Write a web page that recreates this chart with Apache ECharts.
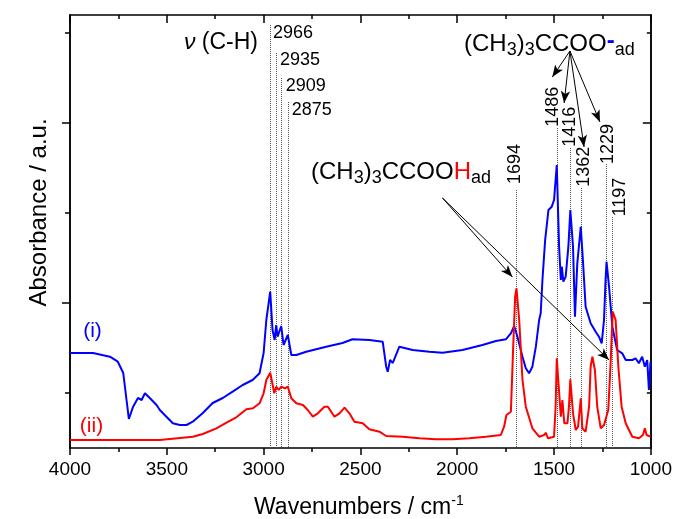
<!DOCTYPE html>
<html>
<head>
<meta charset="utf-8">
<script src="https://cdn.jsdelivr.net/npm/echarts@6/dist/echarts.min.js"></script>
<style>
  html, body { margin: 0; padding: 0; background: #fff; }
  #chart { width: 675px; height: 519px; }
</style>
</head>
<body>
<div id="chart"></div>
<script>
// spectrum (i), blue: [wavenumber, absorbance a.u.]
const spectrumI = [
  [4000,0.98],[3881,0.98],[3794,0.943],[3753,0.893],[3725,0.78],[3708,0.51],[3696,0.32],
  [3674,0.443],[3649,0.53],[3630,0.51],[3613,0.577],[3588,0.53],[3553,0.46],[3536,0.41],
  [3502,0.343],[3469,0.277],[3433,0.26],[3398,0.26],[3366,0.293],[3314,0.38],[3263,0.48],
  [3211,0.53],[3160,0.593],[3108,0.66],[3057,0.71],[3021,0.777],[3000,0.98],[2986,1.31],
  [2966,1.593],[2954,1.21],[2943,1.11],[2935,1.26],[2928,1.143],[2909,1.25],[2897,1.06],
  [2875,1.16],[2857,0.96],[2831,0.96],[2780,0.993],[2677,1.043],[2593,1.08],[2541,1.117],
  [2454,1.11],[2385,1.093],[2367,0.843],[2359,0.793],[2347,0.91],[2333,0.88],[2299,1.043],
  [2230,1.01],[2144,0.993],[2076,0.983],[1973,1.01],[1870,1.06],[1800,1.10],[1749,1.117],
  [1723,1.177],[1706,1.25],[1689,1.143],[1663,0.943],[1646,0.827],[1629,0.777],[1612,0.843],
  [1594,1.043],[1577,1.31],[1569,1.377],[1560,1.71],[1546,2.11],[1529,2.41],[1512,2.443],
  [1500,2.51],[1486,2.86],[1474,2.043],[1465,1.71],[1460,1.843],[1452,1.693],[1440,1.743],
  [1426,2.043],[1416,2.41],[1402,2.043],[1392,1.343],[1380,1.877],[1362,2.243],[1350,1.877],
  [1337,1.443],[1311,1.277],[1285,1.193],[1268,1.143],[1254,1.077],[1242,1.31],[1234,1.71],
  [1229,1.893],[1216,1.643],[1199,1.243],[1174,1.01],[1148,0.977],[1130,0.91],[1096,0.91],
  [1079,0.927],[1062,0.877],[1045,0.943],[1031,0.843],[1019,0.91],[1010,0.61],[1002,0.893]
];

// spectrum (ii), red
const spectrumII = [
  [4000,0.11],[3536,0.11],[3366,0.143],[3314,0.17],[3244,0.227],[3192,0.283],[3141,0.337],
  [3089,0.417],[3055,0.427],[3021,0.477],[3000,0.577],[2986,0.71],[2966,0.783],[2955,0.677],
  [2945,0.577],[2935,0.643],[2922,0.61],[2909,0.643],[2890,0.627],[2875,0.643],[2857,0.527],
  [2831,0.477],[2797,0.46],[2772,0.41],[2746,0.343],[2720,0.377],[2686,0.443],[2668,0.443],
  [2634,0.343],[2608,0.377],[2582,0.433],[2557,0.377],[2531,0.293],[2488,0.277],[2454,0.217],
  [2402,0.193],[2367,0.15],[2282,0.143],[2196,0.127],[2110,0.117],[2024,0.117],[1938,0.127],
  [1852,0.143],[1775,0.16],[1758,0.243],[1746,0.36],[1723,0.393],[1711,1.043],[1701,1.543],
  [1694,1.627],[1680,1.31],[1663,0.71],[1646,0.443],[1612,0.227],[1577,0.143],[1551,0.16],
  [1543,0.183],[1531,0.127],[1500,0.143],[1492,0.443],[1486,0.927],[1471,0.51],[1465,0.343],
  [1457,0.51],[1447,0.277],[1431,0.277],[1423,0.443],[1416,0.717],[1402,0.377],[1388,0.21],
  [1376,0.243],[1362,0.527],[1354,0.227],[1337,0.193],[1319,0.443],[1311,0.843],[1302,0.943],
  [1289,0.81],[1277,0.443],[1259,0.227],[1242,0.26],[1230,0.343],[1220,0.41],[1208,0.877],
  [1197,1.393],[1182,1.31],[1168,0.843],[1151,0.443],[1130,0.277],[1096,0.143],[1062,0.127],
  [1041,0.16],[1031,0.227],[1022,0.16],[1002,0.143]
];

// marked bands (cm-1) and where their dotted guide starts (a.u.)
const peaksCH = [2966, 2935, 2909, 2875];
const peaksCHTop = [4.26, 3.98, 3.73, 3.49];
const peaksOther = [1694, 1486, 1416, 1362, 1229, 1197];
const peaksOtherTop = [2.61, 3.23, 3.03, 2.63, 2.87, 2.34];

// arrows: [from, to] in [wavenumber, a.u.]
const arrowsCarboxylate = [
  [[1418, 4.00], [1509, 3.74]],
  [[1418, 4.00], [1448, 3.48]],
  [[1418, 4.00], [1345, 3.04]],
  [[1418, 4.00], [1263, 3.29]]
];
const arrowsAcid = [
  [[2076, 2.53], [1715, 1.74]],
  [[2076, 2.53], [1216, 0.91]]
];

const xTickStep = 500;
const yMin = 0.03, yMax = 4.36;
const yMajorTicks = [1.48, 3.28];
const yMinorTicks = [0.58, 2.38, 4.18];

const font = '"Liberation Sans", Arial, sans-serif';
const black = { color: '#000', width: 1.5 };

const chart = echarts.init(document.getElementById('chart'));

const xBase = {
  type: 'value', min: 1000, max: 4000, interval: xTickStep, inverse: true,
  axisLine: { show: true, onZero: false, lineStyle: black },
  splitLine: { show: false }
};
const yBase = {
  type: 'value', min: yMin, max: yMax,
  axisLine: { show: true, onZero: false, lineStyle: black },
  splitLine: { show: false },
  axisLabel: { show: false }
};

const txt = (x, y, text, o = {}) => ({
  type: 'text', x, y, rotation: o.rot || 0, z: 100,
  style: {
    text, fontSize: o.size || 18, fontFamily: font, fill: o.fill || '#000',
    align: o.align || 'left', verticalAlign: 'middle', rich: o.rich
  }
});

const formulaRich = {
  b: { fontSize: 24, fontFamily: font, lineHeight: 30, fill: '#000' },
  s: { fontSize: 18, fontFamily: font, lineHeight: 16, verticalAlign: 'bottom', fill: '#000' },
  h: { fontSize: 24, fontFamily: font, lineHeight: 30, fill: '#ff0000' },
  m: { fontSize: 24, fontFamily: font, fontWeight: 'bold', lineHeight: 14, verticalAlign: 'top', fill: '#0000ff' }
};

const chLabelPos = [[273, 33], [280, 60.5], [285.7, 86.3], [291.7, 110]];
const otherLabelPos = [[515, 164], [553.3, 106.7], [570.5, 126.7], [584.5, 166.7], [608.3, 144], [620.5, 197]];

const graphic = [
  txt(258, 43, '{i|ν} (C-H)', { size: 23, align: 'right', rich: { i: { fontSize: 23, fontStyle: 'italic', fontFamily: font, fill: '#000' } } }),
  txt(464, 44, '{b|(CH}{s|3}{b|)}{s|3}{b|CCOO}{m|-}{s|ad}', { rich: formulaRich }),
  txt(311, 172, '{b|(CH}{s|3}{b|)}{s|3}{b|CCOO}{h|H}{s|ad}', { rich: formulaRich }),
  txt(92.5, 331, '(i)', { size: 21, fill: '#0000ff', align: 'center' }),
  txt(91.5, 426, '(ii)', { size: 21, fill: '#ff0000', align: 'center' }),
  txt(254, 508, '{b|Wavenumbers / cm}{p|-1}', {
    rich: {
      b: { fontSize: 23, fontFamily: font, lineHeight: 28, fill: '#000' },
      p: { fontSize: 14, fontFamily: font, lineHeight: 12, verticalAlign: 'top', fill: '#000' }
    }
  }),
  txt(39.5, 212.5, 'Absorbance / a.u.', { size: 24, align: 'center', rot: Math.PI / 2 })
];
peaksCH.forEach((p, i) => graphic.push(txt(chLabelPos[i][0], chLabelPos[i][1], String(p))));
peaksOther.forEach((p, i) => graphic.push(txt(otherLabelPos[i][0], otherLabelPos[i][1], String(p), { align: 'center', rot: Math.PI / 2 })));

const guideLines = peaksCH.map((p, i) => [{ coord: [p, peaksCHTop[i]] }, { coord: [p, yMin] }])
  .concat(peaksOther.map((p, i) => [{ coord: [p, peaksOtherTop[i]] }, { coord: [p, yMin] }]));

const arrows = arrowsCarboxylate.concat(arrowsAcid).map(a => [{ coord: a[0] }, { coord: a[1] }]);

chart.setOption({
  animation: false,
  grid: { left: 70, right: 23, top: 15, bottom: 71 },
  xAxis: [
    Object.assign({}, xBase, {
      position: 'bottom',
      axisTick: { show: true, inside: false, length: 7, lineStyle: black },
      minorTick: { show: true, splitNumber: 2, length: 4, lineStyle: black },
      axisLabel: { color: '#000', fontSize: 19, fontFamily: font, margin: 12, formatter: v => String(v) }
    }),
    Object.assign({}, xBase, {
      position: 'top',
      axisTick: { show: true, inside: true, length: 8, lineStyle: black },
      minorTick: { show: true, splitNumber: 2, length: 4, lineStyle: black },
      axisLabel: { show: false }
    })
  ],
  yAxis: [
    Object.assign({}, yBase, { position: 'left', axisTick: { show: true, length: 8, customValues: yMajorTicks, lineStyle: black } }),
    Object.assign({}, yBase, { position: 'left', axisTick: { show: true, length: 5, customValues: yMinorTicks, lineStyle: black } }),
    Object.assign({}, yBase, { position: 'right', axisTick: { show: true, inside: true, length: 8, customValues: yMajorTicks, lineStyle: black } }),
    Object.assign({}, yBase, { position: 'right', axisTick: { show: true, inside: true, length: 4, customValues: yMinorTicks, lineStyle: black } })
  ],
  graphic,
  series: [
    {
      type: 'line', data: [], z: 1, silent: true,
      markLine: {
        silent: true, symbol: 'none', animation: false, z: 1,
        label: { show: false },
        lineStyle: { color: '#555', width: 1, type: 'dotted' },
        data: guideLines
      }
    },
    {
      type: 'line', name: '(i)', data: spectrumI, z: 10,
      showSymbol: false, symbol: 'none',
      lineStyle: { color: '#0000ff', width: 2 }
    },
    {
      type: 'line', name: '(ii)', data: spectrumII, z: 11,
      showSymbol: false, symbol: 'none',
      lineStyle: { color: '#ff0000', width: 2 }
    },
    {
      type: 'line', data: [], z: 20, silent: true,
      markLine: {
        silent: true, symbol: ['none', 'arrow'], symbolSize: [7, 12], animation: false, z: 20,
        label: { show: false },
        lineStyle: { color: '#000', width: 1, type: 'solid' },
        itemStyle: { color: '#000' },
        data: arrows
      }
    }
  ]
});
</script>
</body>
</html>
